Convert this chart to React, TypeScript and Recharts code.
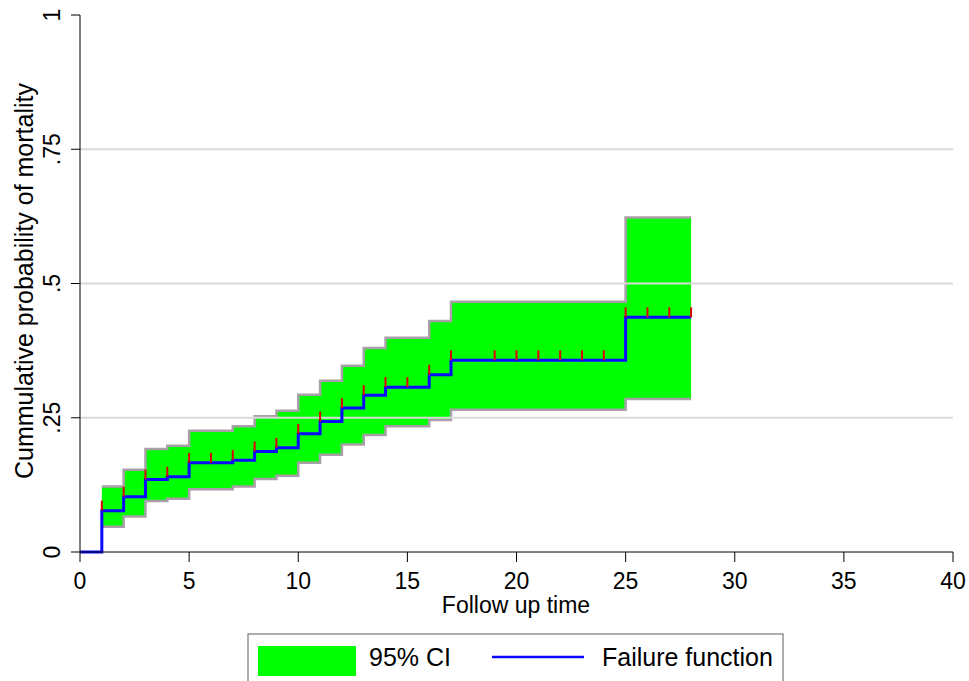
import { Area, ComposedChart, Line, ReferenceLine, Scatter, XAxis, YAxis } from "recharts";

// Follow-up time (steps) and Kaplan–Meier failure estimates
const times = [0, 1, 2, 3, 4, 5, 6, 7, 8, 9, 10, 11, 12, 13, 14, 15, 16, 17, 18, 19, 20, 21, 22, 23, 24, 25, 26, 27, 28];
const failure = [
  0, 0.077, 0.103, 0.135, 0.14, 0.166, 0.166, 0.171, 0.187, 0.194, 0.22, 0.243, 0.268, 0.292, 0.307, 0.307, 0.33,
  0.357, 0.357, 0.357, 0.357, 0.357, 0.357, 0.357, 0.357, 0.437, 0.437, 0.437, 0.437,
];
const lowerCI = [
  null, 0.047, 0.066, 0.095, 0.099, 0.117, 0.117, 0.122, 0.136, 0.142, 0.166, 0.181, 0.2, 0.218, 0.234, 0.234, 0.246,
  0.265, 0.265, 0.265, 0.265, 0.265, 0.265, 0.265, 0.265, 0.285, 0.285, 0.285, 0.285,
];
const upperCI = [
  null, 0.122, 0.153, 0.192, 0.198, 0.226, 0.226, 0.234, 0.253, 0.263, 0.293, 0.319, 0.347, 0.38, 0.399, 0.399, 0.43,
  0.466, 0.466, 0.466, 0.466, 0.466, 0.466, 0.466, 0.466, 0.623, 0.623, 0.623, 0.623,
];
// censoring marks
const censorTimes = [1, 2, 3, 4, 5, 6, 7, 8, 9, 10, 11, 12, 13, 14, 15, 16, 17, 19, 20, 21, 22, 23, 24, 25, 26, 27, 28];

const xTicks = [0, 5, 10, 15, 20, 25, 30, 35, 40];
const yTicks = [0, 0.25, 0.5, 0.75, 1];
const yTickLabels = ["0", ".25", ".5", ".75", "1"];
const gridLines = [0.25, 0.5, 0.75];

const FONT = "'Liberation Sans', Arial, sans-serif";

const rows = times.map((t, i) => ({
  t,
  f: failure[i],
  ci: lowerCI[i] == null ? null : [lowerCI[i], upperCI[i]],
}));
const censorRows = censorTimes.map((t) => ({ t, f: failure[times.indexOf(t)] }));

function XTick(props: any) {
  const { x, y, payload } = props;
  return (
    <text x={x} y={y + 27} textAnchor="middle" fontFamily={FONT} fontSize={23} fill="#000">
      {payload.value}
    </text>
  );
}

function YTick(props: any) {
  const { x, y, payload } = props;
  const idx = yTicks.indexOf(payload.value);
  const bx = x - 9;
  return (
    <text x={bx} y={y} transform={`rotate(-90 ${bx} ${y})`} textAnchor="middle" fontFamily={FONT} fontSize={23} fill="#000">
      {yTickLabels[idx]}
    </text>
  );
}

function CensorMark(props: any) {
  const { cx, cy } = props;
  return <line x1={cx} x2={cx} y1={cy - 10} y2={cy} stroke="#e00000" strokeWidth={2} />;
}

export default function App() {
  return (
    <div style={{ position: "absolute", left: 0, top: 0, width: 969, height: 681, background: "#fff" }}>
      <ComposedChart width={969} height={681} data={rows} margin={{ top: 15, right: 16, left: 0, bottom: 69 }}>
        {gridLines.map((g) => (
          <ReferenceLine key={g} y={g} stroke="#d9d9d9" strokeWidth={2} />
        ))}
        <XAxis
          dataKey="t"
          type="number"
          domain={[0, 40]}
          ticks={xTicks}
          interval={0}
          tickSize={10}
          tickMargin={0}
          height={60}
          stroke="#000"
          tickLine={{ stroke: "#000" }}
          tick={<XTick />}
          label={{
            content: () => (
              <text x={516} y={613} textAnchor="middle" fontFamily={FONT} fontSize={23} fill="#000">
                Follow up time
              </text>
            ),
          }}
        />
        <YAxis
          type="number"
          domain={[0, 1]}
          ticks={yTicks}
          interval={0}
          tickSize={9}
          tickMargin={2}
          width={80}
          stroke="#000"
          tickLine={{ stroke: "#000" }}
          tick={<YTick />}
          label={{
            content: () => (
              <text x={33} y={281} transform="rotate(-90 33 281)" textAnchor="middle" fontFamily={FONT} fontSize={25} fill="#000">
                Cummulative probability of mortality
              </text>
            ),
          }}
        />
        <Area
          type="stepAfter"
          dataKey="ci"
          fill="#00ff00"
          fillOpacity={1}
          stroke="#a89fa8"
          strokeWidth={2.5}
          isAnimationActive={false}
        />
        <Scatter data={censorRows} dataKey="f" shape={<CensorMark />} isAnimationActive={false} />
        <Line type="stepAfter" dataKey="f" stroke="#0a0aff" strokeWidth={3} dot={false} isAnimationActive={false} />
      </ComposedChart>
      <svg width={969} height={681} style={{ position: "absolute", left: 0, top: 0, pointerEvents: "none" }}>
        <rect x={248} y={634} width={535} height={60} fill="#fff" stroke="#777" strokeWidth={1.2} />
        <rect x={258} y={646} width={98} height={30} fill="#00ff00" />
        <text x={369} y={666} fontFamily={FONT} fontSize={25} fill="#000">
          95% CI
        </text>
        <line x1={492} x2={584} y1={657} y2={657} stroke="#0a0aff" strokeWidth={2.5} />
        <text x={602} y={666} fontFamily={FONT} fontSize={25} fill="#000">
          Failure function
        </text>
      </svg>
    </div>
  );
}
